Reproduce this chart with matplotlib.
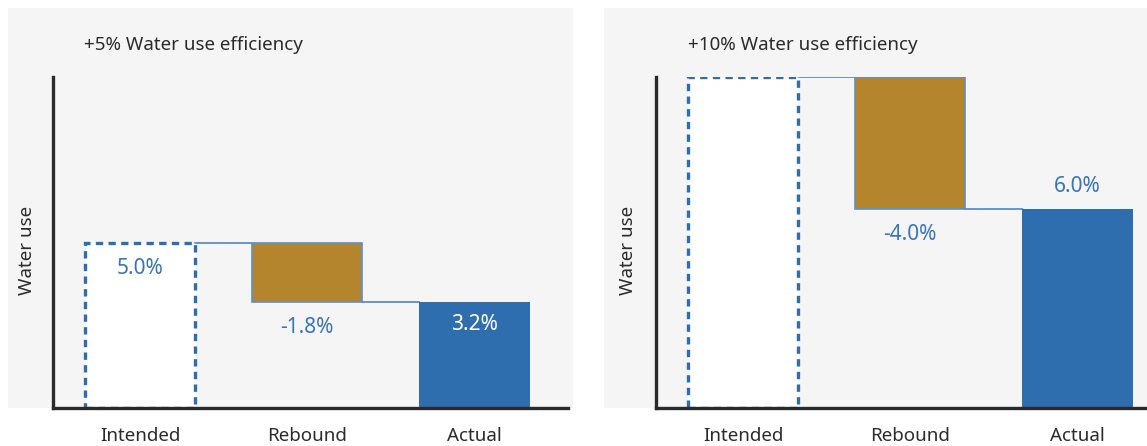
import matplotlib
matplotlib.use("Agg")
import matplotlib.pyplot as plt
from matplotlib.patches import Rectangle

plt.rcParams['font.family'] = ['Noto Sans', 'DejaVu Sans']

# Scenario data (percent change in water use)
titles = ["+5% Water use efficiency", "+10% Water use efficiency"]
categories = ["Intended", "Rebound", "Actual"]
intended = [5.0, 10.0]
rebound = [-1.8, -4.0]
actual = [3.2, 6.0]
show_intended_label = [True, False]

W, H = 1147, 446
fig = plt.figure(figsize=(W / 100, H / 100), dpi=100)

BG = "#f5f5f5"
BLUE = "#2f6eae"
LABEL_BLUE = "#3a74b8"
BROWN = "#b5852e"
LINE_BLUE = "#5b8fcc"
AXIS = "#2a2a2a"
TEXT = "#2b2b2b"

def fx(px):
    return px / W

def fy(py):
    return 1 - py / H

# panel backgrounds and axes positions (pixel layout)
panels = [
    dict(bg=(8, 573), ax_left=53, title_x=84, ylabel_x=27),
    dict(bg=(604, 1147), ax_left=656, title_x=688, ylabel_x=628),
]
ax_top, ax_bottom = 77, 408
ax_w = 515
width = 0.66

for i, p in enumerate(panels):
    x0, x1 = p["bg"]
    fig.patches.append(Rectangle((fx(x0), fy(ax_bottom)), fx(x1 - x0), (ax_bottom - 8) / H,
                                 transform=fig.transFigure, facecolor=BG, edgecolor="none",
                                 zorder=-5))
    ax = fig.add_axes([fx(p["ax_left"]), fy(ax_bottom), fx(ax_w), (ax_bottom - ax_top) / H])
    ax.set_zorder(1)
    ax.set_facecolor("none")
    ax.set_xlim(-0.52, 2.56)
    ax.set_ylim(0, 10)

    start = intended[i]
    after = intended[i] + rebound[i]

    # intended: dashed outline box
    ax.bar(0, start, width=width, facecolor="white", edgecolor=BLUE, linewidth=2.4,
           linestyle=(0, (2.2, 1.6)), zorder=2)
    # rebound: floating bar
    ax.bar(1, rebound[i], bottom=start, width=width, facecolor=BROWN,
           edgecolor=LINE_BLUE, linewidth=1.2, zorder=2)
    # actual
    ax.bar(2, actual[i], width=width, facecolor=BLUE, edgecolor="none", zorder=2)

    # connector lines
    ax.plot([width / 2, 1 - width / 2], [start, start], color=LINE_BLUE, lw=1.3, zorder=1)
    ax.plot([1 + width / 2, 2 - width / 2], [after, after], color=LINE_BLUE, lw=1.3, zorder=1)

    fs = 15
    if show_intended_label[i]:
        ax.annotate(f"{intended[i]:.1f}%", (0, start), xytext=(0, -26), textcoords="offset pixels",
                    ha="center", va="center", color=LABEL_BLUE, fontsize=fs)
    ax.annotate(f"{rebound[i]:.1f}%", (1, after), xytext=(0, -25), textcoords="offset pixels",
                ha="center", va="center", color=LABEL_BLUE, fontsize=fs)
    if actual[i] < 5:
        ax.annotate(f"{actual[i]:.1f}%", (2, actual[i]), xytext=(0, -22), textcoords="offset pixels",
                    ha="center", va="center", color="white", fontsize=fs)
    else:
        ax.annotate(f"{actual[i]:.1f}%", (2, actual[i]), xytext=(0, 23), textcoords="offset pixels",
                    ha="center", va="center", color=LABEL_BLUE, fontsize=fs)

    for s in ["top", "right"]:
        ax.spines[s].set_visible(False)
    for s in ["left", "bottom"]:
        ax.spines[s].set_color(AXIS)
        ax.spines[s].set_linewidth(2.4)
        ax.spines[s].set_zorder(3)
    ax.set_yticks([])
    ax.set_xticks(range(3))
    ax.set_xticklabels(categories, fontsize=13.5, color=TEXT)
    ax.tick_params(axis="x", length=0, pad=14)

    fig.text(fx(p["title_x"]), fy(45), titles[i], ha="left", va="center",
             fontsize=13.5, color=TEXT)
    fig.text(fx(p["ylabel_x"]), fy(250), "Water use", ha="center", va="center",
             rotation=90, fontsize=13.5, color=TEXT)

fig.savefig("out.png", dpi=100, facecolor="white")
